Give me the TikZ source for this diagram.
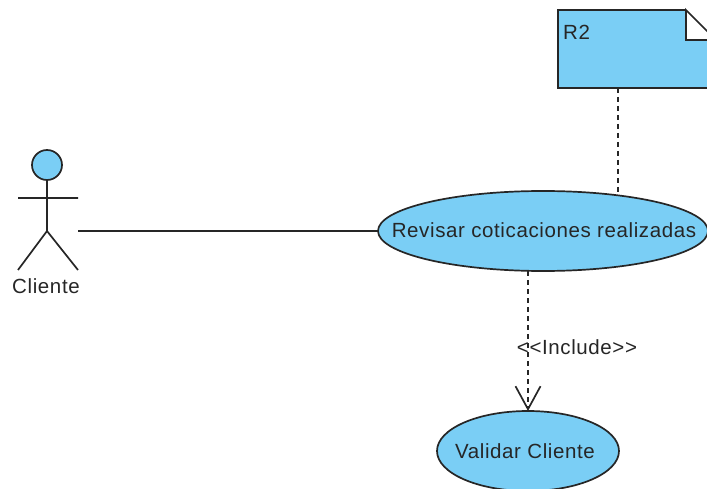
\documentclass[tikz,border=0pt]{standalone}
\usepackage{fontspec}
\setmainfont[LetterSpace=3]{Liberation Sans}
\usetikzlibrary{shapes.geometric,arrows.meta}
\definecolor{casofill}{HTML}{7ACEF5}
\definecolor{linea}{HTML}{262626}
\tikzset{
    caso/.style={ellipse,draw=linea,fill=casofill,line width=1.7pt,inner sep=0pt,outer sep=0pt,text=linea},
    nota/.style={rectangle,draw=linea,fill=casofill,line width=1.7pt,inner sep=0pt,outer sep=0pt},
    linea/.style={draw=linea,line width=1.7pt},
    punteada/.style={linea,dash pattern=on 5pt off 4pt},
    etiqueta/.style={inner sep=0pt,text=linea,font=\fontsize{20.5}{24}\selectfont}
}
\begin{document}
\begin{tikzpicture}[x=1pt,y=-1pt]
    \useasboundingbox (0,0) rectangle (707,489);
    \clip (0,0) rectangle (707,489);
    % note
    \node [nota,minimum width=158pt,minimum height=78pt] (r2) at (637,49) {};
    \node [etiqueta,anchor=west] (r2txt) at (563,32) {R2};
    \fill [white] (686,8) -- (720,8) -- (720,40) -- (686,40) -- cycle;
    \draw [linea,fill=white] (716,40) -- (686,40) -- (686,10) -- (716,40);
    \draw [linea] (558,10) -- (686,10);
    \draw [linea] (716,40) -- (716,88);
    \coordinate (notaFin) at (618,88);
    % use cases
    \node [caso,etiqueta,minimum width=330pt,minimum height=80pt] (revisar) at (543,231) {};
    \node [etiqueta] (revisartxt) at (544,230) {Revisar coticaciones realizadas};
    \node [caso,etiqueta,minimum width=182pt,minimum height=80pt] (validar) at (528,451) {};
    \node [etiqueta] (validartxt) at (525,451) {Validar Cliente};
    % actor
    \node [circle,draw=linea,fill=casofill,line width=1.7pt,minimum size=30pt,inner sep=0pt,outer sep=0pt] (cabeza) at (47,165) {};
    \coordinate (cadera) at (47,231);
    \coordinate (manoIzq) at (18,198);
    \coordinate (manoDer) at (78,198);
    \coordinate (pieIzq) at (18,270);
    \coordinate (pieDer) at (78,270);
    \draw [linea] (cabeza) -- (cadera) (manoIzq) -- (manoDer) (pieIzq) -- (cadera) -- (pieDer);
    \node [etiqueta] (cliente) at (46,286) {Cliente};
    % connectors
    \coordinate (actorFin) at (78,231);
    \draw [linea] (actorFin) -- (revisar.west);
    \draw [punteada] (notaFin) -- (notaFin |- revisar.25.4);
    \draw [punteada,-{Straight Barb[length=23pt,width=25pt,line width=1.7pt]}] (revisar.south -| validar.north) -- (validar.north);
    \node [etiqueta] (incluye) at (577,347) {<{}<Include>{}>};
\end{tikzpicture}
\end{document}
